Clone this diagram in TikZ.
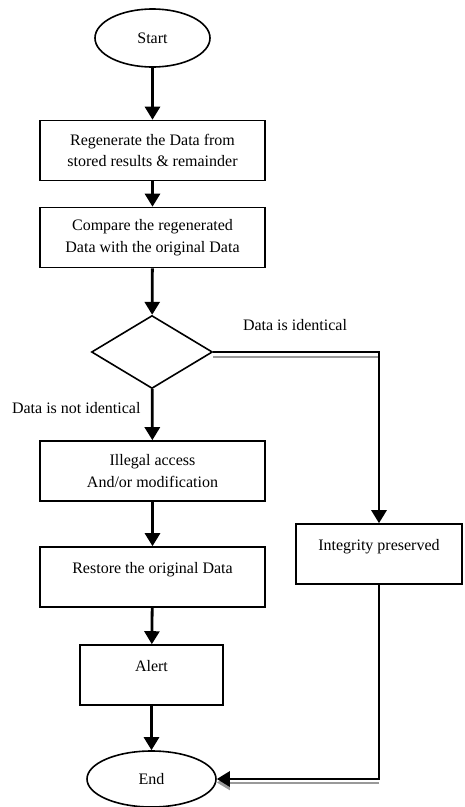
\documentclass[tikz,border=0pt]{standalone}
\usepackage{fontspec}
\setmainfont{Liberation Serif}
\usetikzlibrary{shapes.geometric,arrows.meta}
\begin{document}
\begin{tikzpicture}[x=1pt,y=-1pt,
  every node/.style={font=\fontsize{16}{21.5}\selectfont},
  box/.style={draw,line width=1.6pt,rectangle,minimum width=225pt,minimum height=60pt,align=center,inner sep=0pt},
  oval/.style={draw,line width=1.6pt,ellipse,inner sep=0pt},
  decision/.style={draw,line width=1.6pt,diamond,minimum width=121pt,minimum height=73pt,inner sep=0pt},
  flow/.style={line width=2.8pt,-{Triangle[length=13pt,width=15pt]}},
  flowshade/.style={line width=2pt,draw=black!40},
  flowshadetip/.style={flowshade,-{Triangle[length=13pt,width=15pt,fill=black!40]}}]
\useasboundingbox (0,0) rectangle (465,807);

% shapes
\node[oval,minimum width=115pt,minimum height=58pt] (start) at (152.5,38) {Start};
\node[box] (regen) at (152.5,150.5) {Regenerate the Data from\\stored results \& remainder};
\node[box] (cmp) at (152.5,237.5) {Compare the regenerated\\Data with the original Data};
\node[decision] (dec) at (152,352) {};
\node[box] (illegal) at (152.5,471) {Illegal access\\And/or modification};
\node[box] (restore) at (152.5,577) {Restore the original Data\\[-9pt]\strut};
\node[box,minimum width=143pt] (alert) at (151.5,675) {Alert\\[-9pt]\strut};
\node[box,minimum width=166pt] (integ) at (379,554) {Integrity preserved\\[-9pt]\strut};
\node[oval,minimum width=129pt,minimum height=56pt] (end) at (151.5,779) {End};

% branch labels
\node (lyes) at (295,325) {Data is identical};
\node[anchor=east] (lno) at (144,408) {Data is not identical};

% corners of the right-hand branch
\coordinate (c1) at (dec.east -| integ.north);
\coordinate (c2) at (integ.south |- end.east);

% soft grey edges under the right-hand branch
\draw[flowshade] ([yshift=-5pt]dec.east) -- ([yshift=-5pt]c1);
\draw[flowshadetip] ([yshift=-3.5pt]c2) -- ([yshift=-3.5pt]end.east);

% main flow
\draw[flow] (start) -- (regen);
\draw[flow] (regen) -- (cmp);
\draw[flow] (cmp) -- (dec);
\draw[flow] (dec) -- (illegal);
\draw[flow] (illegal) -- (restore);
\draw[flow] (restore) -- (alert);
\draw[flow] (alert) -- (end);
\draw[flow] (dec.east) -- (c1) -- (integ.north);
\draw[flow] (integ.south) -- (c2) -- (end.east);
\end{tikzpicture}
\end{document}
